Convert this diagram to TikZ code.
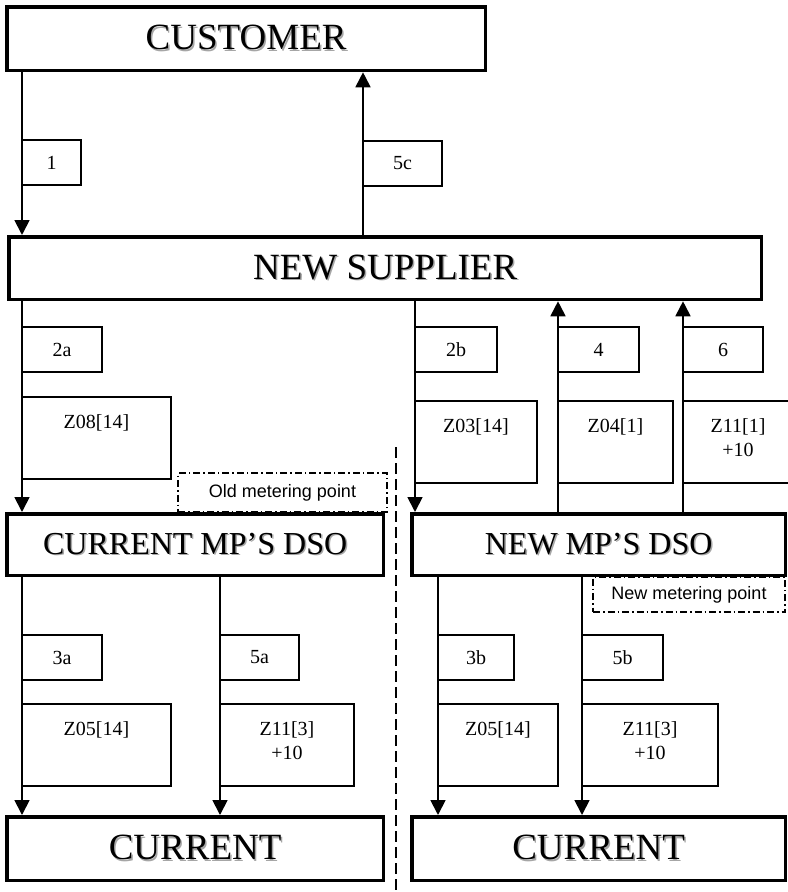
\documentclass[tikz,border=0pt]{standalone}
\usepackage{fontspec}
\setmainfont{Liberation Serif}
\newfontfamily\arialfont{Liberation Sans}
\usetikzlibrary{arrows.meta}
\newcommand\shadowed[1]{\leavevmode\rlap{\kern1.5bp\raisebox{-1.5bp}{\textcolor{black!35}{#1}}}#1}
\begin{document}
\begin{tikzpicture}[x=1bp,y=-1bp,
    party/.style={draw,line width=3.8bp,anchor=north west,inner sep=0,
      font=\fontsize{37bp}{40bp}\selectfont},
    dso/.style={party,font=\fontsize{32bp}{35bp}\selectfont},
    tag/.style={draw,line width=1.4bp,outer sep=0,inner sep=0,anchor=north west,
      minimum height=45bp,font=\fontsize{20bp}{24bp}\selectfont},
    msg/.style={draw,line width=1.4bp,outer sep=0,inner sep=0,anchor=north west,
      align=center,text height=31.6bp,text depth=50.4bp,
      font=\fontsize{20bp}{24bp}\selectfont},
    meter/.style={draw,line width=1.3bp,outer sep=0,inner sep=0,anchor=north west,
      dash pattern=on 7bp off 3bp on 1.5bp off 3bp,
      font=\arialfont\fontsize{18bp}{21bp}\selectfont},
    flow/.style={line width=1.8bp,-{Triangle[length=15bp,width=15bp]}},
    divider/.style={line width=2.6bp,dash pattern=on 11bp off 5bp}]
  \useasboundingbox (0,0) rectangle (788,892);
  % parties
  \node[party,minimum width=478.5bp,minimum height=63.5bp] (cust) at (5,5) {\shadowed{CUSTOMER}};
  \node[party,minimum width=752.5bp,minimum height=62.5bp] (supp) at (7,235) {\shadowed{NEW SUPPLIER}};
  \node[dso,minimum width=376.5bp,minimum height=61.5bp] (curdso) at (5,512) {\shadowed{CURRENT MP’S DSO}};
  \node[dso,minimum width=373.5bp,minimum height=61.5bp] (newdso) at (410,512) {\shadowed{NEW MP’S DSO}};
  \node[party,minimum width=376.5bp,minimum height=63.5bp] (curl) at (5,815) {\shadowed{CURRENT}};
  \node[party,minimum width=373.5bp,minimum height=63.5bp] (curr) at (410,815) {\shadowed{CURRENT}};
  % step numbers
  \foreach \nm/\x/\y/\w/\t in {t1/22/140/59/1, t5c/363/141/79/5c, t2a/22/327/80/2a,
      t2b/415/327/82/2b, t4/558/327/81/4, t6/683/327/80/6, t3a/22/635/80/3a,
      t5a/220/635/79/5a, t3b/438/635/76/3b, t5b/582/635/81/5b}
    \node[tag,minimum width=\w bp] (\nm) at (\x,\y) {\t};
  % messages
  \foreach \nm/\x/\y/\w/\t in {z2a/22/397/149/{Z08[14]}, z2b/415/401/122/{Z03[14]},
      z4/558/401/115/{Z04[1]}, z6/683/401/110/{Z11[1]\\+10}, z3a/22/704/149/{Z05[14]},
      z5a/220/704/134/{Z11[3]\\+10}, z3b/438/704/120/{Z05[14]}, z5b/582/704/136/{Z11[3]\\+10}}
    \node[msg,text width=\w bp] (\nm) at (\x,\y) {\t};
  % flows
  \foreach \a/\b/\t in {cust.south/supp.north/t1, supp.north/cust.south/t5c,
      supp.south/curdso.north/t2a, supp.south/newdso.north/t2b,
      newdso.north/supp.south/t4, newdso.north/supp.south/t6,
      curdso.south/curl.north/t3a, curdso.south/curl.north/t5a,
      newdso.south/curr.north/t3b, newdso.south/curr.north/t5b}
    \draw[flow] (\a -| \t.west) -- (\b -| \t.west);
  \node[meter,minimum width=209bp,minimum height=39bp] (oldmp) at (178,473) {Old metering point};
  \node[meter,minimum width=192bp,minimum height=35bp] (newmp) at (593,577) {New metering point};
  \draw[divider] (396,447) -- (396,892);
\end{tikzpicture}
\end{document}
